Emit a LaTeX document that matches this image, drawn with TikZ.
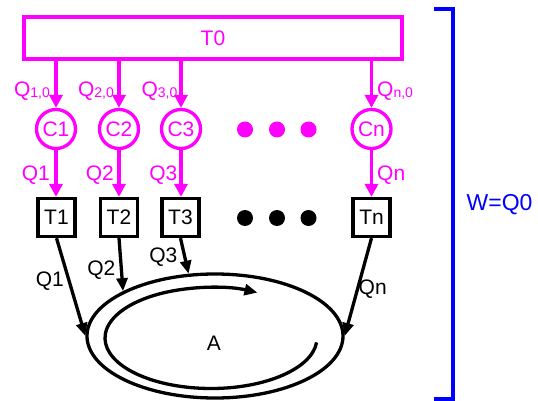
\documentclass[tikz,border=0pt]{standalone}
\usepackage{fontspec}
\setmainfont{Liberation Sans}
\usetikzlibrary{arrows.meta,shapes.geometric}
\definecolor{mag}{RGB}{255,0,255}
\definecolor{blu}{RGB}{0,0,255}
\newcommand{\bigf}{\fontsize{21}{21}\selectfont}
\newcommand{\subq}[1]{Q\raisebox{-1pt}{\fontsize{14}{14}\selectfont #1}}
\begin{document}
\begin{tikzpicture}[x=1pt,y=1pt,
  lw/.style={line width=3.3pt},
  mline/.style={lw, draw=mag, -{Triangle[length=13pt,width=13pt]}},
  kline/.style={lw, draw=black, -{Triangle[length=13pt,width=11pt]}},
  mcirc/.style={circle, lw, draw=mag, minimum size=39pt, inner sep=0pt, text=mag, font=\bigf},
  tbox/.style={rectangle, lw, draw=black, minimum width=37pt, minimum height=38pt, inner sep=0pt, font=\bigf},
  mlab/.style={text=mag, font=\bigf, inner sep=0pt},
  klab/.style={text=black, font=\bigf, inner sep=0pt},
  mdot/.style={circle, fill=mag, minimum size=16pt, inner sep=0pt},
  kdot/.style={circle, fill=black, minimum size=16pt, inner sep=0pt}
]
\useasboundingbox (0,0) rectangle (538,-401);

% top box
\node[rectangle, lw, draw=mag, minimum width=378pt, minimum height=42pt, inner sep=0pt, text=mag, font=\bigf] (t0) at (213,-38) {T0};

% circles
\node[mcirc] (c1) at (56,-129) {C1};
\node[mcirc] (c2) at (119,-129) {C2};
\node[mcirc] (c3) at (181,-129) {C3};
\node[mcirc] (cn) at (371.5,-129) {Cn};
\node[mdot] (md1) at (245,-129.5) {};
\node[mdot] (md2) at (277,-129.5) {};
\node[mdot] (md3) at (308.5,-129.5) {};

% boxes
\node[tbox] (b1) at (56.5,-217.5) {T1};
\node[tbox] (b2) at (119,-217.5) {T2};
\node[tbox] (b3) at (180.5,-217.5) {T3};
\node[tbox] (bn) at (371.5,-217.5) {Tn};
\node[kdot] (kd1) at (245,-218) {};
\node[kdot] (kd2) at (277,-218) {};
\node[kdot] (kd3) at (308.5,-218) {};

% T0 -> C
\draw[mline] (t0.south -| c1.north) -- (c1.north);
\draw[mline] (t0.south -| c2.north) -- (c2.north);
\draw[mline] (t0.south -| c3.north) -- (c3.north);
\draw[mline] (t0.south -| cn.north) -- (cn.north);
\node[mlab, anchor=base east] (l10) at (50,-97) {\subq{1,0}};
\node[mlab, anchor=base east] (l20) at (114,-97) {\subq{2,0}};
\node[mlab, anchor=base east] (l30) at (177.5,-97) {\subq{3,0}};
\node[mlab, anchor=base west] (ln0) at (377,-97) {\subq{n,0}};

% C -> T
\draw[mline] (c1.south) -- (c1.south |- b1.north);
\draw[mline] (c2.south) -- (c2.south |- b2.north);
\draw[mline] (c3.south) -- (c3.south |- b3.north);
\draw[mline] (cn.south) -- (cn.south |- bn.north);
\node[mlab, anchor=base east] (m1) at (50,-180) {Q1};
\node[mlab, anchor=base east] (m2) at (114,-180) {Q2};
\node[mlab, anchor=base east] (m3) at (177.5,-180) {Q3};
\node[mlab, anchor=base west] (mn) at (377,-180) {Qn};

% ellipse A
\node[ellipse, lw, draw=black, minimum width=256pt, minimum height=124pt, inner sep=0pt] (A) at (215,-336) {};
\node[klab, anchor=base] (alab) at (214,-350) {A};
\coordinate (sp) at (316.6,-342.4);
\draw[kline] (sp) arc[start angle=-5, end angle=-296, x radius=106, y radius=50.5];

% T -> A
\draw[kline] (b1.south) -- (A.180);
\draw[kline] (b2.south) -- (A.154);
\draw[kline] (b3.south) -- (A.113);
\draw[kline] (bn.south) -- (A.0);
\node[klab, anchor=base east] (k1) at (64,-286) {Q1};
\node[klab, anchor=base east] (k2) at (115.5,-275) {Q2};
\node[klab, anchor=base east] (k3) at (177.5,-262) {Q3};
\node[klab, anchor=base west] (kn) at (358.5,-294) {Qn};

% bracket
\draw[lw, draw=blu] (434,-9) -- (453,-9) -- (453,-399) -- (434,-399);
\node[text=blu, font=\fontsize{23}{23}\selectfont, inner sep=0pt, anchor=base west] (w) at (466.5,-210) {W=Q0};
\end{tikzpicture}
\end{document}
